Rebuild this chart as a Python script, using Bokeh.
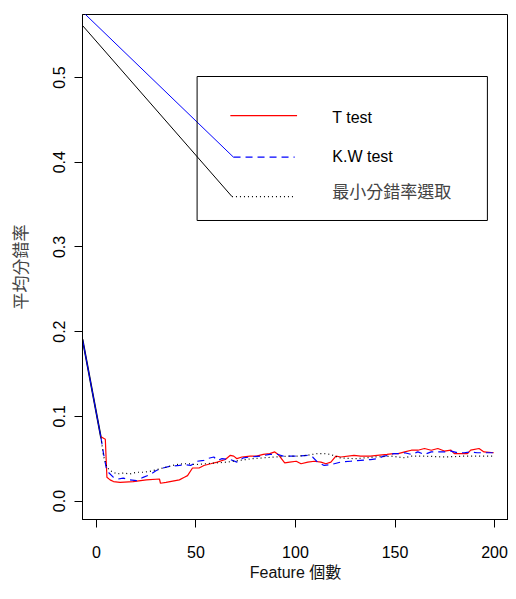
from bokeh.plotting import figure
from bokeh.models import FixedTicker, PrintfTickFormatter, Range1d
from bokeh.core.properties import value
from bokeh.embed import file_html
from bokeh.resources import INLINE

# ---- data ----
lead_x = [-6.96, 2.3]
lead_y = [0.191, 0.075]

t_x = [2.3, 4.5, 5.3, 6.9, 8.6, 11.9, 18.5, 25.1, 31.7, 32.2, 35, 41.7, 44.2, 45.8, 48.3, 51.6, 54,
       57.4, 60.7, 64.8, 67.3, 69, 70.6, 73.1, 77.2, 80.5, 83.8, 87.1, 89.6, 91.3, 94.6, 97.1, 100.4,
       102.8, 106.2, 109.5, 112.8, 115.3, 117.8, 120.3, 122.8, 129.4, 132.7, 137.7, 141, 146, 149.2,
       151.6, 154.9, 158.2, 161.5, 164.8, 168.2, 171.5, 174.8, 178.1, 179.8, 183.1, 186.4, 188, 192.2,
       194.7, 199.6]
t_y = [0.076, 0.073, 0.028, 0.025, 0.023, 0.022, 0.023, 0.025, 0.026, 0.021, 0.022, 0.025, 0.028,
       0.030, 0.039, 0.039, 0.042, 0.044, 0.046, 0.049, 0.054, 0.053, 0.050, 0.052, 0.053, 0.053,
       0.055, 0.056, 0.058, 0.055, 0.045, 0.046, 0.047, 0.044, 0.046, 0.047, 0.046, 0.044, 0.046,
       0.053, 0.052, 0.054, 0.053, 0.053, 0.054, 0.055, 0.056, 0.056, 0.058, 0.060, 0.060, 0.062,
       0.060, 0.062, 0.059, 0.060, 0.056, 0.056, 0.056, 0.060, 0.062, 0.058, 0.057]

kw_x = [2.3, 3.6, 4.9, 6, 8.6, 11, 13.5, 16.9, 20.2, 23.5, 26.8, 30.1, 33.5, 36.7, 41.7, 44.2, 47.4,
        50.7, 54, 55.7, 59, 60.7, 63.1, 67.3, 70.6, 73.9, 77.2, 82.2, 87.1, 91.3, 93.8, 97.1, 101.2,
        106.2, 108.6, 111.1, 114.4, 117.8, 122.8, 127.7, 132.7, 137.7, 141, 144.3, 147.5, 149.2, 151.6,
        154.9, 158.2, 161.5, 164.8, 168.2, 171.5, 174.8, 178.1, 181.4, 184.7, 188, 191.3, 194.7, 199.6]
kw_y = [0.075, 0.056, 0.040, 0.034, 0.028, 0.026, 0.027, 0.025, 0.024, 0.028, 0.031, 0.036, 0.039,
        0.041, 0.042, 0.043, 0.042, 0.047, 0.048, 0.050, 0.052, 0.048, 0.050, 0.049, 0.046, 0.051,
        0.052, 0.053, 0.055, 0.055, 0.053, 0.053, 0.053, 0.054, 0.052, 0.046, 0.042, 0.043, 0.046,
        0.047, 0.048, 0.049, 0.050, 0.053, 0.054, 0.056, 0.056, 0.057, 0.055, 0.058, 0.055, 0.058,
        0.058, 0.058, 0.059, 0.057, 0.057, 0.058, 0.057, 0.057, 0.057]

min_x = [2.3, 3.6, 5.3, 6.9, 10.2, 13.5, 16.9, 20.2, 23.5, 26.8, 30.1, 33.5, 36.7, 40, 43.4, 46.6, 50,
         55, 60, 66, 72, 78, 84, 90, 96, 101, 106, 111, 114.4, 117.8, 122, 130, 140, 148, 155, 158,
         165, 175, 185, 199.6]
min_y = [0.075, 0.053, 0.040, 0.036, 0.032, 0.033, 0.032, 0.034, 0.034, 0.035, 0.037, 0.039, 0.041,
         0.043, 0.044, 0.044, 0.043, 0.044, 0.045, 0.046, 0.048, 0.050, 0.051, 0.052, 0.053, 0.053,
         0.054, 0.056, 0.056, 0.055, 0.051, 0.050, 0.052, 0.053, 0.051, 0.053, 0.053, 0.052, 0.053,
         0.053]

# stray solid lines running from the top-left corner into the legend
kw_top_x = [-6.96, 68.9]
kw_top_y = [0.5778, 0.4059]
min_top_x = [-6.96, 68.1]
min_top_y = [0.5614, 0.3595]

x_ticks = [0, 50, 100, 150, 200]
y_ticks = [0.0, 0.1, 0.2, 0.3, 0.4, 0.5]

series_names = ["T test", "K.W test", "最小分錯率選取"]
series_colors = ["#FF0000", "#0000FF", "#000000"]
series_dash = ["solid", "7 5", "1 3"]

# legend geometry (data units)
leg_box = dict(left=50.6, right=196.4, bottom=0.3312, top=0.5012)
leg_line_x = [[67.3, 100.8], [68.9, 99.6], [68.1, 99.9]]
leg_line_y = [0.4551, 0.4059, 0.3595]
leg_text_x = 118.5
leg_text_y = [0.4530, 0.4065, 0.3670]

LATIN = "Liberation Sans"
CJK = "Noto Sans CJK TC"

p = figure(width=508, height=583, output_backend="svg", toolbar_location=None,
           x_range=Range1d(-6.96, 207.0), y_range=Range1d(-0.0218, 0.5744),
           min_border_left=82, min_border_right=0, min_border_top=14, min_border_bottom=64)
p.background_fill_color = "white"
p.border_fill_color = "white"
p.outline_line_color = "black"
p.outline_line_width = 1
p.xgrid.visible = False
p.ygrid.visible = False

for ax in (p.xaxis[0], p.yaxis[0]):
    ax.axis_line_color = "black"
    ax.major_tick_line_color = "black"
    ax.major_tick_out = 8
    ax.major_tick_in = 0
    ax.minor_tick_line_color = None
    ax.major_label_text_font = LATIN
    ax.major_label_text_font_size = "16px"
    ax.major_label_text_color = "black"
    ax.axis_label_text_font_style = "normal"

p.xaxis.ticker = FixedTicker(ticks=x_ticks)
p.yaxis.ticker = FixedTicker(ticks=y_ticks)
p.yaxis.formatter = PrintfTickFormatter(format="%.1f")
p.yaxis.major_label_orientation = "vertical"
p.xaxis.major_label_standoff = 18
p.yaxis.major_label_standoff = 9

p.xaxis.axis_label = "Feature 個數"
p.xaxis.axis_label_text_font = LATIN + ", " + CJK
p.xaxis.axis_label_text_font_size = "16px"
p.xaxis.axis_label_text_color = "#111111"
p.xaxis.axis_label_standoff = 3

p.yaxis.axis_label = "平均分錯率"
p.yaxis.axis_label_text_font = CJK
p.yaxis.axis_label_text_font_size = "17px"
p.yaxis.axis_label_text_color = "#444444"
p.yaxis.axis_label_standoff = 19

# lead-in segment and stray lines
p.line(lead_x, lead_y, line_color="black", line_width=1.6)
p.line(lead_x, lead_y, line_color="#0000FF", line_width=1.0)
p.line(kw_top_x, kw_top_y, line_color="#0000FF", line_width=1)
p.line(min_top_x, min_top_y, line_color="black", line_width=1)

# series
p.line(t_x, t_y, line_color=series_colors[0], line_width=1.2, line_dash=series_dash[0])
p.line(kw_x, kw_y, line_color=series_colors[1], line_width=1.2, line_dash=series_dash[1])
p.line(min_x, min_y, line_color=series_colors[2], line_width=1.2, line_dash=series_dash[2])

# legend
p.quad(left=[leg_box["left"]], right=[leg_box["right"]], bottom=[leg_box["bottom"]],
       top=[leg_box["top"]], fill_color=None, line_color="black", line_width=1)
for i in range(3):
    p.line(leg_line_x[i], [leg_line_y[i], leg_line_y[i]], line_color=series_colors[i],
           line_width=1.2, line_dash=series_dash[i])
p.text(x=[leg_text_x] * 2, y=leg_text_y[:2], text=series_names[:2], text_font=value(LATIN),
       text_font_size="16px", text_baseline="middle", text_align="left", text_color="black")
p.text(x=[leg_text_x], y=leg_text_y[2:], text=series_names[2:], text_font=value(CJK),
       text_font_size="17px", text_baseline="middle", text_align="left", text_color="#444444")

open("out.html", "w").write(file_html(p, INLINE))
